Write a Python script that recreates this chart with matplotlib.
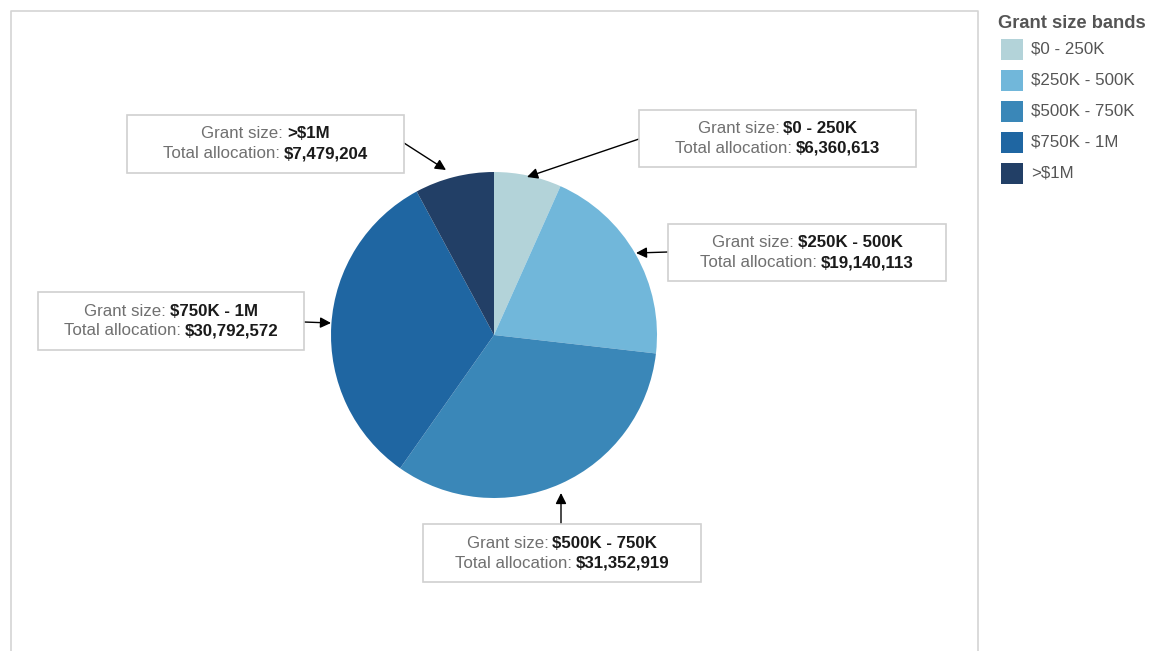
import numpy as np
import matplotlib
matplotlib.use("Agg")
import matplotlib.pyplot as plt
from matplotlib.patches import Rectangle
from matplotlib.lines import Line2D

plt.rcParams['font.family'] = ['Liberation Sans', 'DejaVu Sans']

bands = ["$0 - 250K", "$250K - 500K", "$500K - 750K", "$750K - 1M", ">$1M"]
allocation = [6360613, 19140113, 31352919, 30792572, 7479204]
colors = ["#b3d3d9", "#71b7da", "#3a87b8", "#1f66a2", "#223f66"]

# callout layout in pixels: box (x0, y0, x1, y1), arrow start, arrow tip
boxes = [(639, 110, 916, 167), (668, 224, 946, 281), (423, 524, 701, 582),
         (38, 292, 304, 350), (127, 115, 404, 173)]
arrow_from = [(639, 139), (668, 252), (561, 524), (304, 322), (404, 143)]
arrow_to = [(527, 177), (636, 253), (561, 493), (331, 323), (446, 170)]

W, H = 1149, 651
fig = plt.figure(figsize=(W / 100, H / 100), dpi=100)


def fx(x):
    return x / W


def fy(y):
    return 1 - y / H


# pie axes: centre (494, 335), radius 163 px
cx, cy, r = 494, 335, 163
ax = fig.add_axes([fx(cx - r), fy(cy + r), 2 * r / W, 2 * r / H])
ax.pie(allocation, colors=colors, startangle=90, counterclock=False,
       radius=1, wedgeprops=dict(linewidth=0))
ax.set_xlim(-1, 1)
ax.set_ylim(-1, 1)
ax.set_aspect('equal')
ax.axis('off')

# chart frame (left, top, right)
frame = '#d4d4d4'
fig.add_artist(Line2D([fx(11), fx(11), fx(978), fx(978)],
                      [0, fy(11), fy(11), 0], color=frame, lw=1.2,
                      transform=fig.transFigure))

renderer = fig.canvas.get_renderer()
grey = '#707070'
dark = '#1a1a1a'
fs = 12.2


def mixed_line(xc, yc, label, value):
    t1 = fig.text(0, fy(yc), label, color=grey, fontsize=fs,
                  ha='right', va='center')
    t2 = fig.text(0, fy(yc), value, color=dark, fontsize=fs,
                  fontweight='bold', ha='left', va='center')
    w1 = t1.get_window_extent(renderer).width
    w2 = t2.get_window_extent(renderer).width
    gap = 4
    left = xc - (w1 + gap + w2) / 2
    t1.set_x(fx(left + w1))
    t2.set_x(fx(left + w1 + gap))


for band, val, box, p0, p1 in zip(bands, allocation, boxes, arrow_from, arrow_to):
    x0, y0, x1, y1 = box
    fig.add_artist(Rectangle((fx(x0), fy(y1)), (x1 - x0) / W, (y1 - y0) / H,
                             facecolor='white', edgecolor='#d0d0d0', lw=1.2,
                             transform=fig.transFigure))
    xm, ym = (x0 + x1) / 2, (y0 + y1) / 2
    mixed_line(xm, ym - 10, "Grant size:", band)
    mixed_line(xm, ym + 10, "Total allocation:", "${:,}".format(val))
    ax.annotate("", xy=(fx(p1[0]), fy(p1[1])), xycoords='figure fraction',
                xytext=(fx(p0[0]), fy(p0[1])), textcoords='figure fraction',
                arrowprops=dict(arrowstyle='-|>', color='black', lw=1,
                                mutation_scale=16, shrinkA=0, shrinkB=0))

# legend
fig.text(fx(998), fy(24), "Grant size bands", color='#555555', fontsize=13.2,
         fontweight='bold', ha='left', va='center')
for i, (band, c) in enumerate(zip(bands, colors)):
    yc = 49 + i * 31
    fig.add_artist(Rectangle((fx(1001), fy(yc + 10.5)), 22 / W, 21 / H,
                             facecolor=c, edgecolor='none',
                             transform=fig.transFigure))
    fig.text(fx(1031), fy(yc), band, color='#555555', fontsize=12.2,
             ha='left', va='center')

fig.savefig("out.png", dpi=100)
